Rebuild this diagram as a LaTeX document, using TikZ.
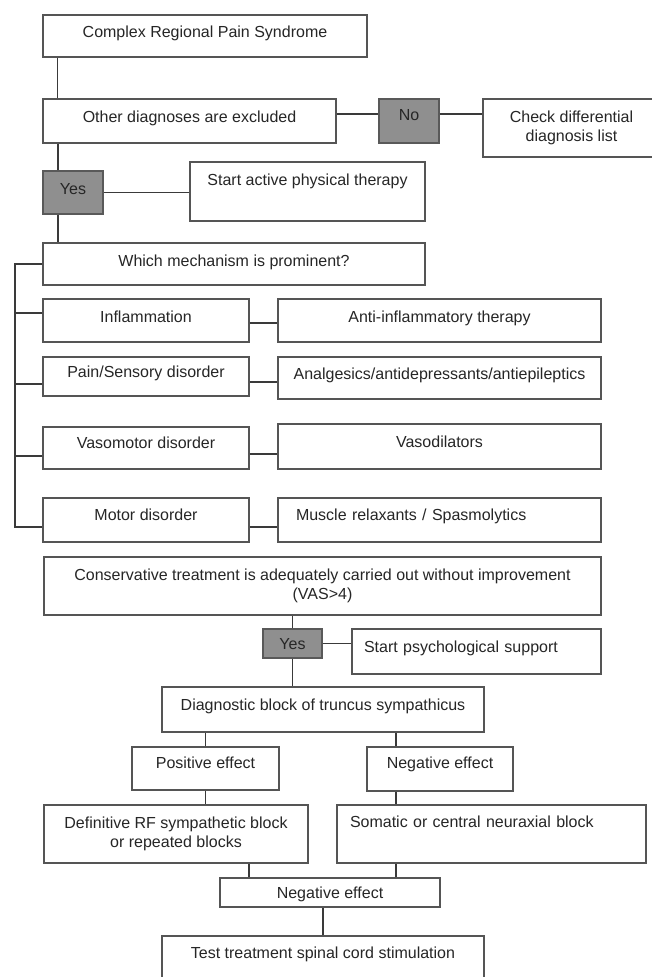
\documentclass[tikz,border=0pt]{standalone}
\usepackage{fontspec}
\setmainfont{Liberation Sans}
\definecolor{boxline}{HTML}{555555}
\definecolor{linkline}{HTML}{3A3A3A}
\definecolor{answerfill}{HTML}{8F8F8F}
\definecolor{inktext}{HTML}{262626}
\begin{document}
\begin{tikzpicture}[x=1pt, y=-1pt,
    block/.style={draw=boxline, line width=1.5pt, fill=white, inner sep=0pt, text=inktext,
        font=\fontsize{16}{19}\selectfont, text height=12pt, text depth=11pt},
    answer/.style={block, fill=answerfill, draw=black!65},
    multi/.style={block, text height=, text depth=, align=center},
    leftblock/.style={block, align=left},
    link/.style={draw=linkline, line width=1.4pt}]
    \useasboundingbox (0,0) rectangle (652,977);
    \clip (0,0) rectangle (652,977);

    \node[block, minimum width=324pt, minimum height=42pt, text depth=10pt] (crps) at (205,36) {Complex Regional Pain Syndrome};
    \node[block, minimum width=293pt, minimum height=44pt, text depth=10pt] (other) at (189.5,121) {Other diagnoses are excluded};
    \node[answer, minimum width=60pt, minimum height=44pt, text depth=14pt] (no) at (409,121) {No};
    \node[multi, minimum width=177pt, minimum height=58pt] (check) at (571.5,128) {Check differential\\diagnosis list};
    \node[answer, minimum width=60pt, minimum height=43pt, text depth=9pt] (yes) at (73,192.5) {Yes};
    \node[block, minimum width=235pt, minimum height=59pt, text depth=25pt] (active) at (307.5,191.5) {Start active physical therapy};
    \node[block, minimum width=382pt, minimum height=42pt, text depth=8pt] (which) at (234,264) {Which mechanism is prominent?};

    \node[block, minimum width=206pt, minimum height=43pt, text depth=9pt] (infl) at (146,320.5) {Inflammation};
    \node[block, minimum width=323pt, minimum height=43pt, text depth=9pt] (anti) at (439.5,320.5) {Anti-inflammatory therapy};
    \node[block, minimum width=206pt, minimum height=39pt] (pain) at (146,376.5) {Pain/Sensory disorder};
    \node[block, minimum width=323pt, minimum height=42pt, text depth=10pt] (anal) at (439.5,378) {Analgesics/antidepressants/antiepileptics};
    \node[block, minimum width=206pt, minimum height=42pt, text depth=12pt] (vaso) at (146,448) {Vasomotor disorder};
    \node[block, minimum width=323pt, minimum height=45pt, text depth=11pt] (vasod) at (439.5,446.5) {Vasodilators};
    \node[block, minimum width=206pt, minimum height=44pt, text depth=12pt] (motor) at (146,520) {Motor disorder};
    \node[leftblock, minimum width=323pt, minimum height=44pt, text depth=12pt, inner xsep=18pt, text width=287pt] (muscle) at (439.5,520) {Muscle relaxants / Spasmolytics};

    \node[multi, minimum width=557pt, minimum height=58pt] (cons) at (322.5,586) {Conservative treatment is adequately carried out without improvement\\(VAS>4)};
    \node[answer, minimum width=59pt, minimum height=29pt, text depth=0pt] (yes2) at (292.5,643.5) {Yes};
    \node[leftblock, minimum width=249pt, minimum height=45pt, inner xsep=12pt, text width=225pt] (psych) at (476.5,651.5) {Start psychological support};
    \node[block, minimum width=322pt, minimum height=45pt] (diag) at (323,709.5) {Diagnostic block of truncus sympathicus};
    \node[block, minimum width=147pt, minimum height=43pt, text depth=13pt] (pos) at (205.5,768.5) {Positive effect};
    \node[block, minimum width=146pt, minimum height=44pt, text depth=13pt] (neg) at (440,769) {Negative effect};
    \node[multi, minimum width=264pt, minimum height=58pt] (defin) at (176,834) {Definitive RF sympathetic block\\or repeated blocks};
    \node[leftblock, minimum width=309pt, minimum height=58pt, text depth=26pt, inner xsep=13pt, text width=283pt] (soma) at (491.5,834) {Somatic or central neuraxial block};
    \node[block, minimum width=220pt, minimum height=29pt, text depth=0pt] (neg2) at (330,892.5) {Negative effect};
    \node[block, minimum width=322pt, minimum height=59pt, text depth=27pt] (test) at (323,965.5) {Test treatment spinal cord stimulation};

    \draw[link] ([xshift=15pt]crps.south west) coordinate (t) -- (t |- other.north);
    \draw[link] ([yshift=7pt]other.east) coordinate (t) -- (t -| no.west);
    \draw[link] ([yshift=7pt]no.east) coordinate (t) -- (t -| check.west);
    \draw[link] ([xshift=-15pt]yes.north) coordinate (t) -- (t |- other.south);
    \draw[link] (yes.east) -- (yes.east -| active.west);
    \draw[link] ([xshift=-15pt]yes.south) coordinate (t) -- (t |- which.north);

    \coordinate (bus top) at (15,264);
    \coordinate (bus end) at (15,527);
    \draw[link] (which.west) -- (bus top) -- (bus end) -- ([yshift=-7pt]motor.west);
    \foreach \n/\s in {infl/7.5, pain/-7.5, vaso/-8}
        \draw[link] ([yshift=\s pt]\n.west) coordinate (t) -- (t -| bus top);
    \foreach \a/\b/\s in {infl/anti/-2.5, pain/anal/-5.5, vaso/vasod/-6, motor/muscle/-7}
        \draw[link] ([yshift=\s pt]\a.east) coordinate (t) -- (t -| \b.west);

    \draw[link] (yes2.north) -- (yes2.north |- cons.south);
    \draw[link] (yes2.east) -- (yes2.east -| psych.west);
    \draw[link] (yes2.south) -- (yes2.south |- diag.north);
    \draw[link] (pos.north) -- (pos.north |- diag.south);
    \draw[link] ([xshift=-44pt]neg.north) coordinate (t) -- (t |- diag.south);
    \draw[link] (pos.south) -- (pos.south |- defin.north);
    \draw[link] ([xshift=-44pt]neg.south) coordinate (t) -- (t |- soma.north);
    \draw[link] ([xshift=73pt]defin.south) coordinate (t) -- (t |- neg2.north);
    \draw[link] ([xshift=-95.5pt]soma.south) coordinate (t) -- (t |- neg2.north);
    \draw[link] (test.north) -- (test.north |- neg2.south);
\end{tikzpicture}
\end{document}
